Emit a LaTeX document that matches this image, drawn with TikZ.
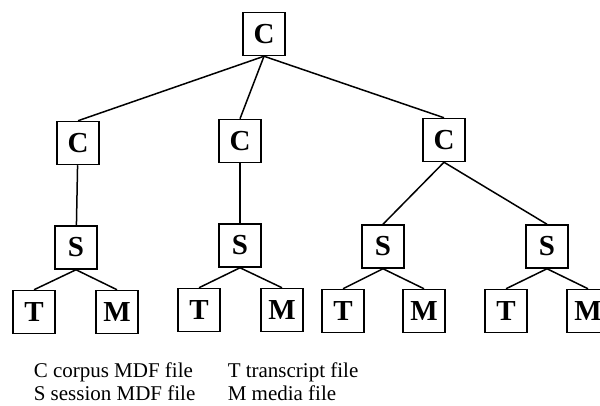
\documentclass[tikz,border=0pt]{standalone}
\usepackage{fontspec}
\setmainfont{Liberation Serif}
\usepackage{tikz}
\usetikzlibrary{positioning}

\begin{document}
\begin{tikzpicture}
[
	x = 1pt, y = -1pt,
	file/.style	= {rectangle, draw = black, fill = white, line width = 1.5pt, minimum width = 42pt, minimum height = 43pt, inner sep = 0pt, font = \fontsize{29}{29}\selectfont\bfseries},
	legend/.style	= {anchor = base west, inner sep = 0pt, font = \fontsize{21}{23}\selectfont},
	every path/.style = {line width = 1.5pt},
]
	\useasboundingbox (0,0) rectangle (600,406);

	\node (root) [file] at (264,34) {C};
	%
	\node (C1) [file] at (78,143) {C};
	\node (C2) [file] at (240,141) {C};
	\node (C3) [file] at (444,140) {C};
	%
	\node (S1) [file, below = 60pt of C1, xshift = -2pt] {S};
	\node (S2) [file, below = 60pt of C2] {S};
	\node (S3) [file, below = 62pt of C3, xshift = -61pt] {S};
	\node (S4) [file, below = 62pt of C3, xshift = 103pt] {S};
	%
	\node (T1) [file, below = 20pt of S1, xshift = -42pt] {T};
	\node (M1) [file, below = 20pt of S1, xshift = 41pt] {M};
	\node (T2) [file, below = 20pt of S2, xshift = -41pt] {T};
	\node (M2) [file, below = 20pt of S2, xshift = 42pt] {M};
	\node (T3) [file, below = 20pt of S3, xshift = -40pt] {T};
	\node (M3) [file, below = 20pt of S3, xshift = 41pt] {M};
	\node (T4) [file, below = 20pt of S4, xshift = -41pt] {T};
	\node (M4) [file, below = 20pt of S4, xshift = 41pt] {M};

	\draw (root.south) -- (C1.north);
	\draw (root.south) -- (C2.north);
	\draw (root.south) -- (C3.north);
	%
	\draw (C1) -- (S1);
	\draw (C2) -- (S2);
	\draw (C3.south) -- (S3.north);
	\draw (C3.south) -- (S4.north);
	%
	\draw (S1.south) -- (T1.north);
	\draw (S1.south) -- (M1.north);
	\draw (S2.south) -- (T2.north);
	\draw (S2.south) -- (M2.north);
	\draw (S3.south) -- (T3.north);
	\draw (S3.south) -- (M3.north);
	\draw (S4.south) -- (T4.north);
	\draw (S4.south) -- (M4.north);

	\node (keyC) [legend] at (33,377) {C corpus MDF file};
	\node (keyS) [legend] at (33,400) {S session MDF file};
	\node (keyT) [legend] at (227,377) {T transcript file};
	\node (keyM) [legend] at (227,400) {M media file};

\end{tikzpicture}
\end{document}
